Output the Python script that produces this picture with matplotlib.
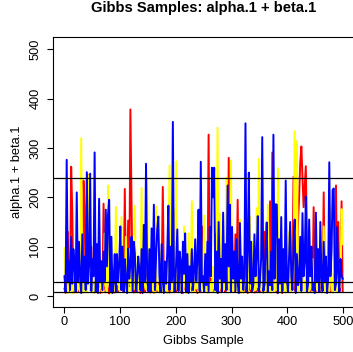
import numpy as np
import matplotlib
matplotlib.use("Agg")
import matplotlib.pyplot as plt

# Gibbs trace: 3 chains (every 2nd sample)
sample_no = np.arange(1, 500, 2)

chain_yellow = [
    97, 8, 15, 6, 22, 40, 12, 5, 80, 10, 18, 7, 35, 14, 9, 320, 20, 6, 55, 11, 8, 25, 245, 12, 60,
    14, 6, 30, 9, 45, 12, 7, 18, 65, 10, 22, 127, 15, 8, 224, 30, 11, 5, 40, 16, 9, 181, 24, 70, 12,
    20, 160, 12, 35, 8, 120, 15, 9, 95, 28, 10, 60, 14, 183, 7, 22, 45, 11, 30, 219, 9, 18, 80, 13, 239,
    10, 25, 8, 55, 14, 6, 38, 182, 12, 20, 7, 90, 16, 9, 42, 11, 28, 6, 70, 265, 15, 9, 33, 175, 12,
    273, 14, 8, 30, 11, 55, 9, 141, 18, 6, 40, 127, 13, 22, 192, 10, 7, 35, 15, 65, 9, 24, 160, 12, 20,
    163, 9, 20, 6, 45, 12, 28, 8, 60, 15, 7, 35, 341, 10, 167, 18, 9, 50, 13, 25, 240, 11, 70, 16, 274,
    20, 8, 45, 12, 30, 7, 15, 155, 10, 38, 6, 22, 85, 11, 9, 28, 161, 14, 110, 8, 40, 12, 178, 18, 278,
    12, 30, 9, 60, 14, 7, 25, 185, 11, 18, 6, 48, 16, 9, 35, 12, 259, 20, 8, 75, 13, 10, 42, 7, 22,
    18, 130, 9, 25, 12, 50, 334, 14, 314, 10, 40, 7, 22, 95, 11, 30, 8, 16, 60, 9, 26, 13, 75, 8, 35,
    12, 28, 9, 40, 150, 11, 20, 141, 8, 35, 14, 55, 10, 181, 22, 7, 45, 13, 30, 9, 65, 16, 20, 176, 105,
]

chain_red = [
    15, 6, 40, 130, 9, 20, 262, 170, 12, 7, 28, 10, 55, 8, 18, 11, 35, 234, 181, 14, 9, 246, 60, 12, 100,
    10, 25, 7, 14, 45, 9, 18, 6, 70, 12, 187, 20, 8, 35, 11, 5, 22, 50, 9, 15, 7, 30, 12, 8, 40,
    110, 12, 28, 9, 217, 15, 40, 153, 20, 378, 187, 11, 7, 35, 14, 9, 65, 12, 6, 22, 10, 45, 8, 16, 30,
    9, 20, 7, 35, 12, 6, 15, 50, 10, 25, 8, 14, 40, 221, 18, 52, 9, 12, 30, 7, 16, 10, 45, 8, 20,
    12, 8, 25, 75, 10, 18, 6, 40, 14, 9, 30, 7, 20, 85, 11, 15, 8, 35, 12, 6, 22, 48, 10, 141, 16,
    60, 12, 20, 9, 327, 15, 35, 8, 18, 10, 45, 127, 14, 7, 25, 11, 9, 40, 16, 8, 30, 12, 280, 20, 10,
    14, 40, 9, 125, 20, 195, 12, 7, 30, 10, 18, 8, 55, 11, 6, 25, 13, 9, 35, 15, 7, 20, 10, 45, 12,
    9, 25, 12, 7, 130, 15, 20, 8, 40, 192, 11, 291, 14, 9, 30, 7, 18, 12, 50, 10, 6, 22, 14, 35, 9,
    12, 30, 8, 20, 45, 242, 15, 9, 60, 150, 200, 270, 303, 240, 180, 220, 263, 120, 40, 14, 9, 25, 11, 180, 18,
    10, 22, 8, 35, 14, 9, 18, 210, 12, 7, 28, 11, 45, 9, 16, 8, 30, 12, 224, 15, 150, 10, 20, 192, 9,
]

chain_blue = [
    40, 8, 276, 30, 70, 12, 120, 25, 95, 60, 8, 210, 28, 110, 35, 6, 125, 30, 80, 12, 251, 25, 60, 248, 10,
    75, 40, 291, 8, 105, 6, 197, 28, 70, 12, 90, 30, 175, 60, 165, 195, 10, 120, 6, 30, 85, 8, 85, 28, 65,
    141, 12, 100, 8, 75, 28, 6, 96, 35, 65, 120, 10, 110, 86, 8, 30, 80, 55, 12, 95, 6, 144, 30, 268, 40,
    10, 95, 8, 137, 28, 185, 12, 80, 135, 161, 40, 8, 105, 30, 6, 70, 25, 90, 183, 12, 100, 30, 353, 40, 8,
    70, 135, 10, 90, 70, 6, 110, 45, 127, 8, 85, 6, 60, 28, 95, 12, 50, 115, 30, 75, 175, 10, 272, 28, 40,
    8, 85, 22, 110, 10, 140, 40, 260, 200, 260, 12, 90, 6, 150, 35, 75, 8, 169, 28, 105, 12, 224, 60, 185, 8,
    140, 35, 90, 10, 115, 30, 6, 148, 35, 80, 12, 40, 350, 8, 95, 250, 25, 110, 10, 22, 125, 40, 85, 162, 8,
    30, 75, 322, 10, 25, 100, 149, 8, 50, 22, 90, 12, 327, 35, 186, 185, 6, 115, 25, 160, 10, 95, 28, 234, 40,
    8, 80, 150, 40, 12, 110, 155, 6, 85, 22, 35, 120, 10, 168, 40, 70, 202, 8, 25, 155, 40, 100, 12, 25, 6,
    169, 30, 95, 8, 150, 35, 10, 110, 30, 80, 6, 35, 271, 40, 90, 215, 218, 12, 25, 140, 45, 8, 75, 40, 35,
]

chain_colors = ["red", "yellow", "blue"]
ref_lines = [240, 28, 9]   # quantile lines
x_ticks = [0, 100, 200, 300, 400, 500]
y_ticks = [0, 100, 200, 300, 400, 500]

plt.rcParams["font.family"] = ["Liberation Sans", "DejaVu Sans"]

fig = plt.figure(figsize=(3.53, 3.52), dpi=100)
ax = fig.add_axes([0.151, 0.1287, 0.853, 0.7653])

# red first, then yellow, blue on top
for ch, col in zip([chain_red, chain_yellow, chain_blue], chain_colors):
    ax.plot(sample_no, ch, color=col, lw=1.4)

for v in ref_lines:
    ax.axhline(v, color="black", lw=0.9, zorder=5)

ax.set_xlim(-18.96, 519.96)
ax.set_ylim(-21.7, 524.3)
ax.set_xticks(x_ticks)
ax.set_yticks(y_ticks)
ax.tick_params(direction="out", length=4.5, width=0.8, labelsize=9.2, colors="black")
ax.tick_params(axis="x", pad=2.5)
ax.tick_params(axis="y", pad=4)
for lab in ax.get_yticklabels():
    lab.set_rotation(90)
    lab.set_va("center")
for sp in ax.spines.values():
    sp.set_linewidth(0.8)

ax.set_title("Gibbs Samples: alpha.1 + beta.1", fontsize=10.6, fontweight="bold", y=1.064, va="baseline")
ax.set_xlabel("Gibbs Sample", fontsize=9.3)
ax.set_ylabel("alpha.1 + beta.1", fontsize=9.3)
ax.xaxis.set_label_coords(0.5, -0.127)
ax.xaxis.label.set_va("center")
ax.yaxis.set_label_coords(-0.1215, 0.5)
ax.yaxis.label.set_va("center")

fig.savefig("out.png", dpi=100)
